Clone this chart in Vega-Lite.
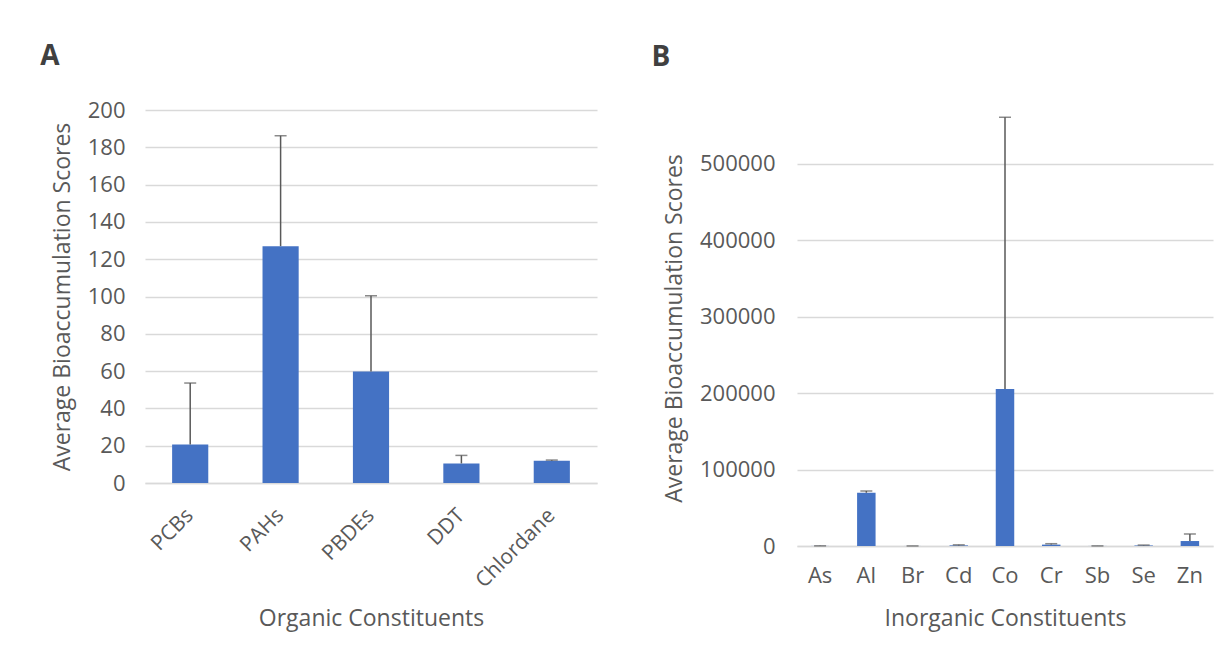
{
  "$schema": "https://vega.github.io/schema/vega-lite/v6.json",
  "background": "white",
  "padding": {"left": 40, "top": 43, "right": 10, "bottom": 5},
  "spacing": 54,
  "config": {
    "font": "Open Sans",
    "view": {"stroke": null},
    "axis": {
      "labelColor": "#595959",
      "titleColor": "#595959",
      "labelFontSize": 22,
      "titleFontSize": 23,
      "titleFontWeight": "normal",
      "labelOverlap": false,
      "ticks": false,
      "gridColor": "#d9d9d9",
      "gridWidth": 1.5,
      "domainColor": "#d9d9d9",
      "domainWidth": 1.5
    },
    "title": {"fontSize": 28, "fontWeight": "bold", "color": "#404040", "anchor": "start", "frame": "bounds"}
  },
  "hconcat": [
    {
      "title": {"text": "A", "dx": -11, "offset": 28},
      "width": 452,
      "height": 373,
      "data": {"values": [
        {"constituent": "PCBs", "mean": 20.6, "upper": 53.6},
        {"constituent": "PAHs", "mean": 127, "upper": 186.2},
        {"constituent": "PBDEs", "mean": 59.8, "upper": 100.4},
        {"constituent": "DDT", "mean": 10.5, "upper": 14.8},
        {"constituent": "Chlordane", "mean": 11.9, "upper": 12.3}
      ]},
      "encoding": {
        "x": {
          "field": "constituent", "type": "nominal", "sort": null,
          "scale": {"paddingInner": 0.6, "paddingOuter": 0.3},
          "axis": {"title": "Organic Constituents", "labelAngle": -45, "labelAlign": "right", "labelBaseline": "middle", "labelFontSize": 21, "labelPadding": 29, "titlePadding": 16, "domain": true, "grid": false}
        }
      },
      "layer": [
        {
          "mark": {"type": "bar", "color": "#4472C4"},
          "encoding": {
            "y": {"field": "mean", "type": "quantitative",
              "scale": {"domain": [0, 200], "nice": false},
              "axis": {"title": "Average Bioaccumulation Scores", "values": [0,20,40,60,80,100,120,140,160,180,200], "tickCount": 30, "domain": false, "labelPadding": 20, "titlePadding": 13}}
          }
        },
        {
          "mark": {"type": "rule", "color": "#595959", "strokeWidth": 1.5},
          "encoding": {"y": {"field": "mean", "type": "quantitative"}, "y2": {"field": "upper"}}
        },
        {
          "mark": {"type": "tick", "orient": "horizontal", "color": "#595959", "size": 12, "thickness": 1.5},
          "encoding": {"y": {"field": "upper", "type": "quantitative"}}
        }
      ]
    },
    {
      "title": {"text": "B", "dx": -12, "offset": 38},
      "width": 416,
      "height": 436,
      "data": {"values": [
        {"constituent": "As", "mean": 100, "upper": 200},
        {"constituent": "Al", "mean": 69600, "upper": 71900},
        {"constituent": "Br", "mean": 50, "upper": 100},
        {"constituent": "Cd", "mean": 800, "upper": 1500},
        {"constituent": "Co", "mean": 205100, "upper": 560500},
        {"constituent": "Cr", "mean": 1800, "upper": 3000},
        {"constituent": "Sb", "mean": 80, "upper": 150},
        {"constituent": "Se", "mean": 700, "upper": 1200},
        {"constituent": "Zn", "mean": 6500, "upper": 15700}
      ]},
      "encoding": {
        "x": {
          "field": "constituent", "type": "nominal", "sort": null,
          "scale": {"paddingInner": 0.6, "paddingOuter": 0.3},
          "axis": {"title": "Inorganic Constituents", "labelAngle": 0, "labelPadding": 19, "titlePadding": 21, "domain": true, "grid": false}
        }
      },
      "layer": [
        {
          "mark": {"type": "bar", "color": "#4472C4"},
          "encoding": {
            "y": {"field": "mean", "type": "quantitative",
              "scale": {"domain": [0, 570000], "nice": false},
              "axis": {"title": "Average Bioaccumulation Scores", "values": [0,100000,200000,300000,400000,500000], "tickCount": 30, "format": "d", "domain": false, "labelPadding": 22, "titlePadding": 13}}
          }
        },
        {
          "mark": {"type": "rule", "color": "#595959", "strokeWidth": 1.5},
          "encoding": {"y": {"field": "mean", "type": "quantitative"}, "y2": {"field": "upper"}}
        },
        {
          "mark": {"type": "tick", "orient": "horizontal", "color": "#595959", "size": 12, "thickness": 1.5},
          "encoding": {"y": {"field": "upper", "type": "quantitative"}}
        }
      ]
    }
  ]
}
